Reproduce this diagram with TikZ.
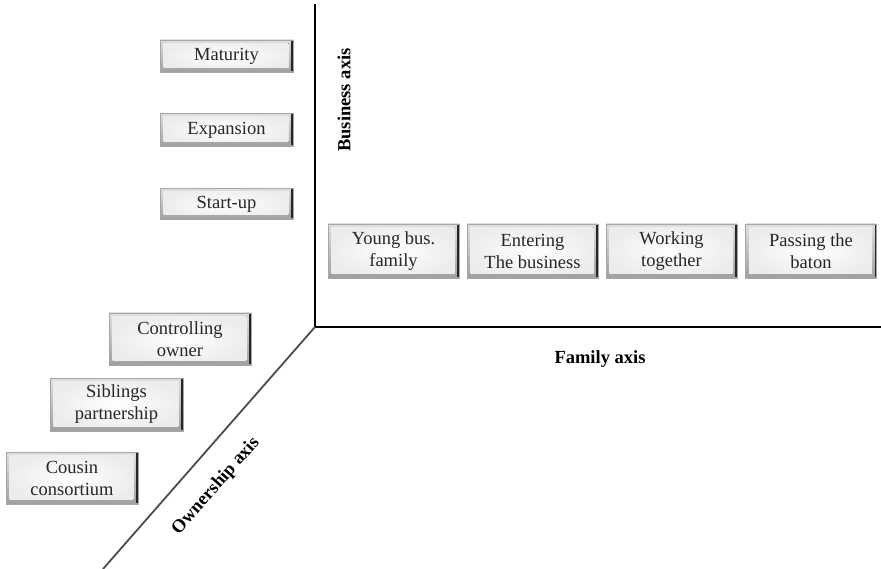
\documentclass[tikz,border=0pt]{standalone}
\usepackage{fontspec}
\setmainfont{Liberation Serif}
\usetikzlibrary{calc}
\tikzset{
  btn/.style={
    minimum width=#1, inner sep=0pt, align=center,
    font=\fontsize{18.5}{22}\selectfont, text=black!85,
    draw=gray!70, line width=0.5pt,
    top color=gray!25, bottom color=gray!75,
    path picture={
      \fill[inner color=white, outer color=gray!15]
        ([shift={(3.5pt,-3.5pt)}]path picture bounding box.north west)
        rectangle ([shift={(-4.5pt,4.5pt)}]path picture bounding box.south east);
      \draw[black!85, line width=1.8pt]
        ([shift={(-0.9pt,-1pt)}]path picture bounding box.north east) --
        ([shift={(-0.9pt,1pt)}]path picture bounding box.south east);
    }},
  btn/.default=133pt,
  axisline/.style={line width=1.8pt, black},
  axislabel/.style={font=\fontsize{18.5}{22}\bfseries\selectfont, inner sep=0pt},
}
\begin{document}
\begin{tikzpicture}[x=1pt,y=-1pt]
\useasboundingbox (0,0) rectangle (881,569);
% axes
\coordinate (O) at (315,327);
\coordinate (top) at (315,4);
\coordinate (right) at (881,327);
\coordinate (dl) at (103,569);
\draw[axisline] (top) -- (O) -- (right);
\draw[line width=1.8pt, black!70] (O) -- (dl);
% labels
\node[axislabel, rotate=90] (bax) at (344,100) {Business axis};
\node[axislabel] (fax) at (600,359) {Family axis};
\node[axislabel, rotate=48.7] (oax) at (216,486) {Ownership axis};
% business boxes
\node[btn, minimum height=32pt] (mat) at (226.5,56) {Maturity};
\node[btn, minimum height=33pt] (exp) at (226.5,130) {Expansion};
\node[btn, minimum height=31pt] (start) at (226.5,204) {Start-up};
% family boxes
\node[btn=131pt, minimum height=54pt] (young) at (393.5,251) {Young bus.\\family};
\node[btn=131pt, minimum height=54pt] (enter) at (532.5,251) {Entering\\The business};
\node[btn=131pt, minimum height=54pt] (work) at (671.5,251) {Working\\together};
\node[btn=131pt, minimum height=54pt] (pass) at (811,251) {Passing the\\baton};
% ownership boxes
\node[btn=142pt, minimum height=52pt] (ctrl) at (180,339) {Controlling\\owner};
\node[btn=133pt, minimum height=53pt] (sib) at (116.5,404.5) {Siblings\\partnership};
\node[btn=132pt, minimum height=52pt] (cous) at (72,478) {Cousin\\consortium};
\end{tikzpicture}
\end{document}
